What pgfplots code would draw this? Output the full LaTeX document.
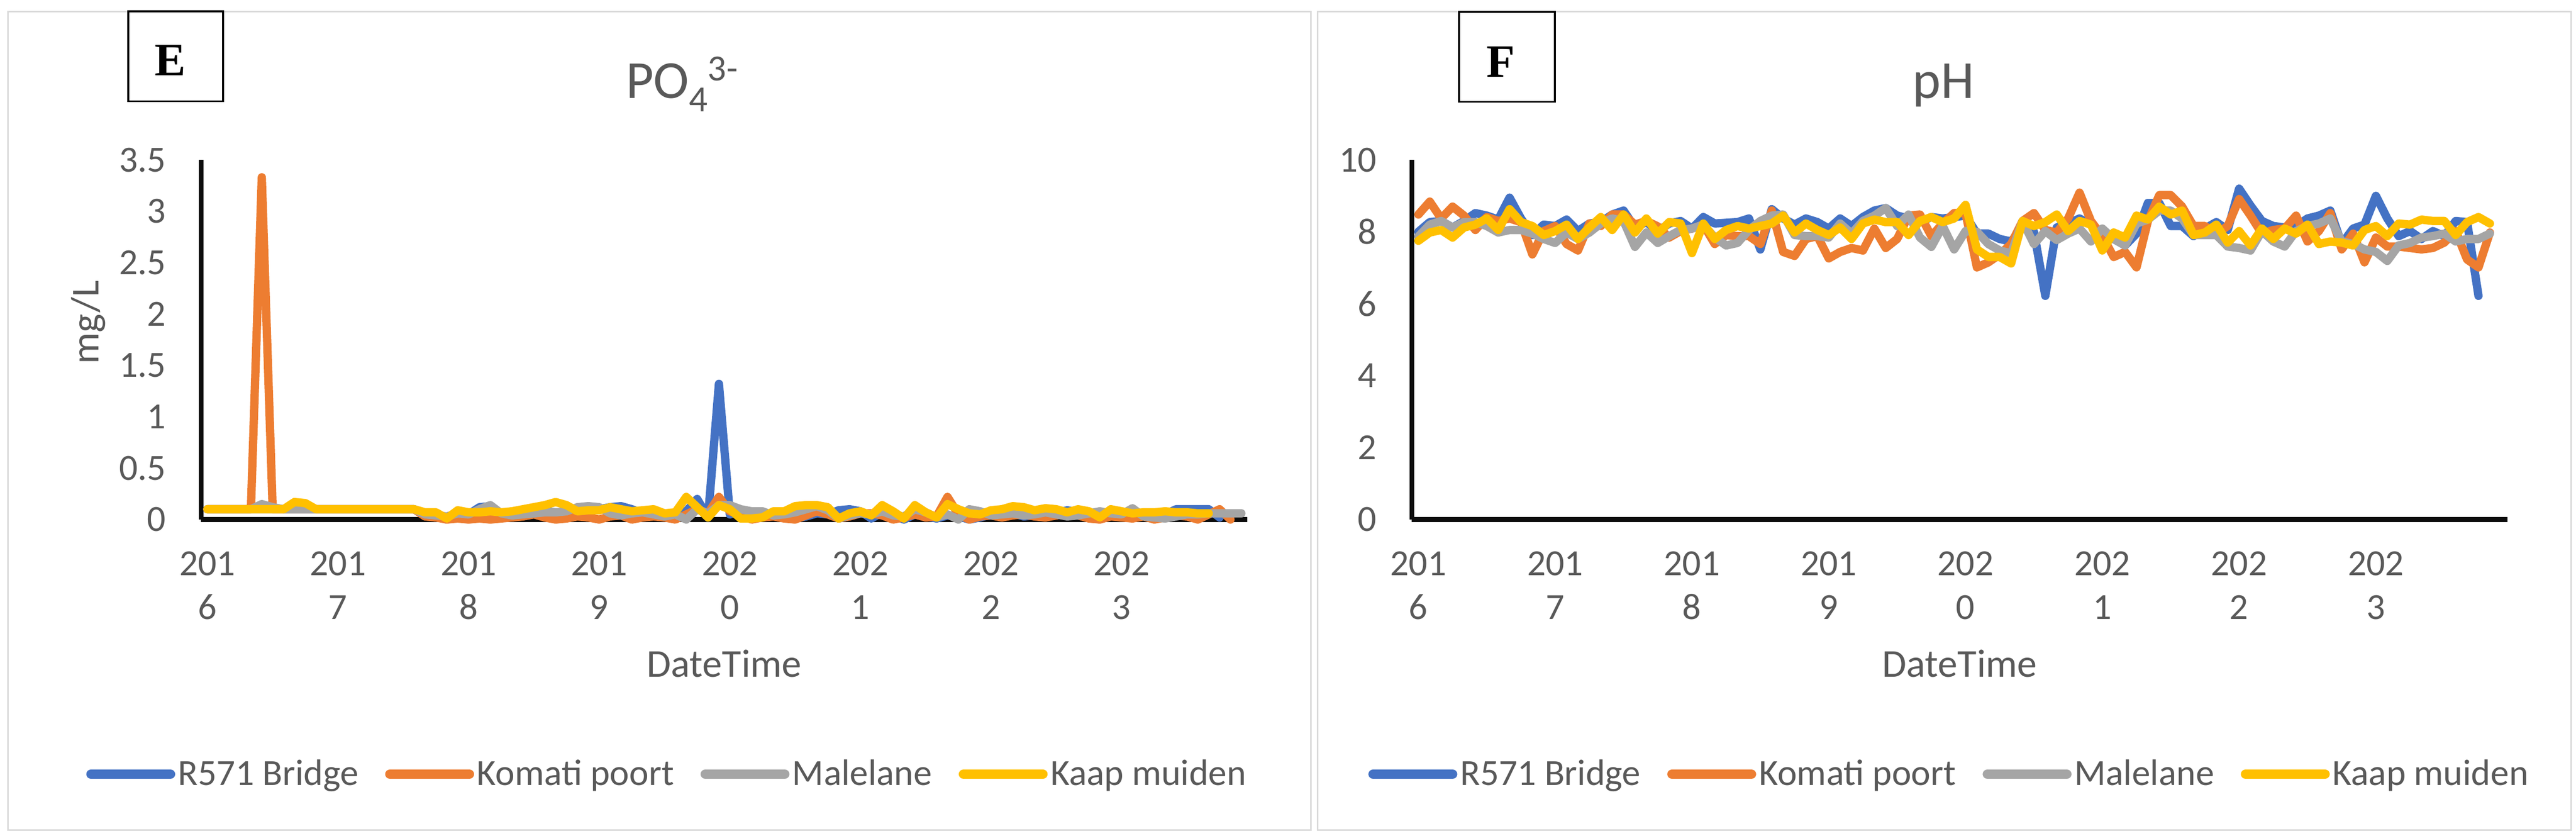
\documentclass[border=0pt]{standalone}
\usepackage{fontspec}
\setmainfont{Carlito}
\newfontfamily\serifbold{Liberation Serif}
\usepackage{pgfplots}
\usepackage{pgfplotstable}
\pgfplotsset{compat=1.18}

\definecolor{cBlue}{HTML}{4472C4}
\definecolor{cOrange}{HTML}{ED7D31}
\definecolor{cGray}{HTML}{A5A5A5}
\definecolor{cGold}{HTML}{FFC000}
\definecolor{txt}{HTML}{595959}
\definecolor{frm}{HTML}{D9D9D9}

% month index from Jan 2016: R571 Bridge, Komati poort, Malelane, Kaap muiden
\pgfplotstableread{
i b o g y
0 0.10 0.10 0.10 0.10
1 0.10 0.10 0.10 0.10
2 0.10 0.10 0.10 0.10
3 0.10 0.10 0.10 0.10
4 0.10 0.10 0.10 0.10
5 0.10 3.33 0.15 0.10
6 0.10 0.10 0.12 0.10
7 0.10 0.10 0.10 0.10
8 0.10 0.10 0.10 0.17
9 0.10 0.10 0.10 0.16
10 0.10 0.10 0.10 0.10
11 0.10 0.10 0.10 0.10
12 0.10 0.10 0.10 0.10
13 0.10 0.10 0.10 0.10
14 0.10 0.10 0.10 0.10
15 0.10 0.10 0.10 0.10
16 0.10 0.10 0.10 0.10
17 0.10 0.10 0.10 0.10
18 0.10 0.10 0.10 0.10
19 0.10 0.10 0.10 0.10
20 0.05 0.03 0.05 0.07
21 0.03 0.02 0.04 0.07
22 0.00 0.00 0.03 0.01
23 0.03 0.01 0.06 0.09
24 0.05 0.00 0.05 0.07
25 0.12 0.01 0.10 0.07
26 0.13 0.00 0.14 0.08
27 0.05 0.01 0.06 0.07
28 0.03 0.02 0.04 0.08
29 0.04 0.03 0.05 0.10
30 0.05 0.05 0.06 0.12
31 0.08 0.02 0.07 0.14
32 0.07 0.00 0.07 0.17
33 0.06 0.01 0.08 0.14
34 0.08 0.03 0.12 0.08
35 0.09 0.02 0.13 0.09
36 0.10 0.00 0.12 0.09
37 0.12 0.03 0.06 0.12
38 0.13 0.04 0.04 0.10
39 0.10 0.00 0.06 0.08
40 0.06 0.02 0.07 0.09
41 0.05 0.03 0.05 0.10
42 0.04 0.02 0.03 0.06
43 0.06 0.00 0.05 0.07
44 0.08 0.05 0.00 0.22
45 0.20 0.10 0.10 0.12
46 0.02 0.06 0.06 0.02
47 1.32 0.22 0.14 0.14
48 0.05 0.08 0.14 0.10
49 0.08 0.05 0.10 0.01
50 0.07 0.00 0.08 0.01
51 0.06 0.02 0.08 0.02
52 0.04 0.03 0.04 0.08
53 0.02 0.01 0.05 0.08
54 0.01 0.00 0.07 0.13
55 0.03 0.04 0.10 0.14
56 0.06 0.08 0.13 0.14
57 0.05 0.05 0.09 0.12
58 0.09 0.01 0.01 0.01
59 0.10 0.03 0.04 0.06
60 0.08 0.06 0.06 0.08
61 0.01 0.06 0.05 0.04
62 0.07 0.04 0.08 0.14
63 0.04 0.00 0.04 0.08
64 0.00 0.02 0.03 0.01
65 0.05 0.05 0.10 0.14
66 0.03 0.02 0.07 0.07
67 0.01 0.03 0.02 0.02
68 0.04 0.22 0.05 0.15
69 0.03 0.05 0.00 0.10
70 0.00 0.00 0.10 0.06
71 0.02 0.03 0.08 0.05
72 0.05 0.04 0.04 0.09
73 0.04 0.02 0.05 0.10
74 0.06 0.04 0.06 0.13
75 0.03 0.05 0.04 0.12
76 0.04 0.03 0.05 0.09
77 0.05 0.02 0.07 0.11
78 0.06 0.04 0.05 0.10
79 0.09 0.06 0.03 0.07
80 0.07 0.04 0.04 0.10
81 0.06 0.01 0.06 0.08
82 0.07 0.00 0.08 0.02
83 0.05 0.03 0.06 0.10
84 0.05 0.02 0.05 0.08
85 0.03 0.01 0.11 0.06
86 0.05 0.03 0.03 0.07
87 0.06 0.00 0.02 0.07
88 0.05 0.02 0.01 0.08
89 0.10 0.04 0.03 0.07
90 0.10 0.03 0.05 0.07
91 0.10 0.00 0.05 0.06
92 0.10 0.05 0.06 0.06
93 0.02 0.10 0.06 nan
94 nan 0.00 0.06 nan
95 nan nan 0.06 nan
}\phos

\pgfplotstableread{
i b o g y
0 8.00 8.48 7.87 7.75
1 8.27 8.84 8.20 7.98
2 8.30 8.37 8.30 8.05
3 8.12 8.70 8.12 7.84
4 8.30 8.45 8.27 8.12
5 8.52 8.05 8.27 8.20
6 8.45 8.41 8.16 8.37
7 8.34 8.30 7.98 8.05
8 8.95 8.37 8.05 8.63
9 8.37 8.27 8.05 8.27
10 7.91 7.37 7.95 8.16
11 8.20 8.02 7.80 7.91
12 8.16 8.16 7.69 8.02
13 8.34 7.66 7.98 8.20
14 8.02 7.48 7.80 7.80
15 8.23 8.23 7.98 8.12
16 8.27 8.16 8.23 8.41
17 8.48 8.48 8.37 8.05
18 8.59 8.48 8.30 8.48
19 8.12 8.20 7.58 7.98
20 8.27 8.30 7.98 8.37
21 8.02 8.15 7.69 7.95
22 8.23 7.84 7.88 8.27
23 8.30 8.02 8.05 8.23
24 8.09 8.09 8.09 7.41
25 8.41 8.20 8.20 8.23
26 8.23 7.66 7.84 7.80
27 8.25 7.91 7.62 8.05
28 8.27 7.88 7.69 8.16
29 8.37 7.88 8.05 8.09
30 7.51 7.66 8.30 8.16
31 8.63 8.59 8.45 8.23
32 8.37 7.44 8.48 8.45
33 8.20 7.33 7.91 7.98
34 8.37 7.80 7.88 8.23
35 8.27 7.88 7.88 8.05
36 8.09 7.26 7.84 7.91
37 8.37 7.44 8.23 8.12
38 8.16 7.55 7.95 7.80
39 8.41 7.48 8.30 8.23
40 8.59 8.09 8.45 8.34
41 8.66 7.55 8.66 8.27
42 8.45 7.80 8.16 8.27
43 8.37 8.45 8.48 7.91
44 8.27 8.48 7.84 8.30
45 8.41 7.88 7.58 8.41
46 8.37 8.23 8.16 8.27
47 8.41 8.52 7.51 8.37
48 8.45 8.52 8.02 8.75
49 7.95 7.01 8.00 7.51
50 7.95 7.15 7.66 7.30
51 7.80 7.37 7.48 7.30
52 7.73 7.66 7.40 7.12
53 8.12 8.30 8.30 8.30
54 8.00 8.52 7.66 8.16
55 6.22 8.05 8.02 8.27
56 8.12 7.98 7.77 8.48
57 8.23 8.37 7.95 8.02
58 8.37 9.09 8.09 8.30
59 8.20 8.30 7.73 8.20
60 7.80 7.88 8.09 7.48
61 7.80 7.30 7.80 7.98
62 7.62 7.44 7.62 7.84
63 7.95 7.01 8.23 8.45
64 8.80 8.30 8.34 8.34
65 8.80 9.02 8.59 8.70
66 8.16 9.02 8.59 8.48
67 8.16 8.70 8.37 8.59
68 7.88 8.16 7.91 7.91
69 8.09 8.16 7.91 7.98
70 8.27 7.95 7.91 8.20
71 8.05 8.16 7.59 7.70
72 9.20 8.91 7.55 8.02
73 8.73 8.45 7.48 7.62
74 8.30 7.95 8.02 8.09
75 8.16 8.05 7.73 7.80
76 8.12 8.09 7.59 8.09
77 8.16 8.45 8.02 7.95
78 8.37 7.73 8.16 8.20
79 8.45 8.02 8.23 7.66
80 8.59 8.52 8.37 7.73
81 7.66 7.51 7.73 7.70
82 8.09 7.95 7.66 7.62
83 8.20 7.15 7.51 8.05
84 9.00 7.84 7.44 8.16
85 8.37 7.59 7.19 7.88
86 7.88 7.59 7.62 8.23
87 8.02 7.55 7.69 8.20
88 7.80 7.51 7.84 8.34
89 8.02 7.55 7.88 8.30
90 7.88 7.70 7.95 8.30
91 8.30 8.02 7.73 7.91
92 8.27 7.23 7.80 8.27
93 6.22 7.01 7.80 8.41
94 nan 7.98 7.95 8.23
}\ph

\pgfplotsset{
  panel/.style={
    scale only axis, height=151.2pt,
    xmin=-0.57, xmax=95.55,
    axis x line=bottom, axis y line=left,
    axis line style={line width=2pt, color=black!95, -},
    major tick length=0pt,
    xtick={0,12,...,84},
    xticklabels={{201\\6},{201\\7},{201\\8},{201\\9},{202\\0},{202\\1},{202\\2},{202\\3}},
    xticklabel style={font=\fontsize{15.5}{18.4}\selectfont, text=txt, align=center, inner sep=0pt, yshift=-13.2pt},
    yticklabel style={font=\fontsize{15.5}{18}\selectfont, text=txt, inner sep=0pt, xshift=-14.6pt},
    /pgf/number format/assume math mode=true,
    clip=false, unbounded coords=jump, no markers,
    xlabel=DateTime,
    xlabel style={font=\fontsize{16.6}{20}\selectfont, text=txt, at={(axis description cs:0.5,-0.438)}, anchor=base},
    legend columns=4,
    legend style={draw=none, fill=none, font=\fontsize{15.5}{18}\selectfont, text=txt, anchor=center,
      nodes={inner sep=1.2pt},
      /tikz/every even column/.append style={column sep=10pt}},
    legend image code/.code={\draw[#1, line width=4pt, line cap=round] (0pt,0pt) -- (33.4pt,0pt);},
    every axis plot/.append style={line width=3.5pt, line join=round, line cap=round},
  },
}

\begin{document}
\begin{tikzpicture}
\path[use as bounding box, fill=white] (0pt,0pt) rectangle (1083.4pt,-351.4pt);
\draw[frm, line width=0.7pt] (3.4pt,-4.8pt) rectangle (551.4pt,-349pt);
\draw[frm, line width=0.7pt] (554.2pt,-4.8pt) rectangle (1081.4pt,-349pt);

\begin{axis}[panel, at={(84.6pt,-218.4pt)}, anchor=south west, width=440pt,
    ymin=0, ymax=3.5, ytick={0,0.5,...,3.5},
    ylabel={mg/L},
    ylabel style={font=\fontsize{16.6}{20}\selectfont, text=txt, at={(axis description cs:-0.108,0.548)}, anchor=center},
    legend style={at={(0.446,-0.708)}}]
\addplot[color=cBlue] table[x=i, y=b] {\phos};
\addlegendentry{R571 Bridge}
\addplot[color=cOrange] table[x=i, y=o] {\phos};
\addlegendentry{Komati poort}
\addplot[color=cGray] table[x=i, y=g] {\phos};
\addlegendentry{Malelane}
\addplot[color=cGold] table[x=i, y=y] {\phos};
\addlegendentry{Kaap muiden}
\end{axis}

\begin{axis}[panel, at={(593.8pt,-218.4pt)}, anchor=south west, width=460.8pt,
    ymin=0, ymax=10, ytick={0,2,...,10},
    legend style={at={(0.491,-0.708)}}]
\addplot[color=cBlue] table[x=i, y=b] {\ph};
\addlegendentry{R571 Bridge}
\addplot[color=cOrange] table[x=i, y=o] {\ph};
\addlegendentry{Komati poort}
\addplot[color=cGray] table[x=i, y=g] {\ph};
\addlegendentry{Malelane}
\addplot[color=cGold] table[x=i, y=y] {\ph};
\addlegendentry{Kaap muiden}
\end{axis}

\draw[black, line width=0.8pt, fill=white] (54pt,-4.8pt) rectangle (93.8pt,-42.6pt);
\node[font=\serifbold\bfseries\fontsize{19.5}{19.5}\selectfont, inner sep=0pt] at (71.6pt,-25.4pt) {E};
\draw[black, line width=0.8pt, fill=white] (613.6pt,-5pt) rectangle (654pt,-42.8pt);
\node[font=\serifbold\bfseries\fontsize{19.5}{19.5}\selectfont, inner sep=0pt] at (631.1pt,-25.9pt) {F};

\node[anchor=base, text=txt, font=\fontsize{22.5}{22.5}\selectfont, inner sep=0pt] at (286.8pt,-41.2pt)
  {PO\raisebox{-5.8pt}{\fontsize{15.5}{15.5}\selectfont 4}\raisebox{7.4pt}{\fontsize{15.5}{15.5}\selectfont 3-}};
\node[anchor=base, text=txt, font=\fontsize{22.5}{22.5}\selectfont, inner sep=0pt] at (817.4pt,-41.2pt) {pH};
\end{tikzpicture}
\end{document}
